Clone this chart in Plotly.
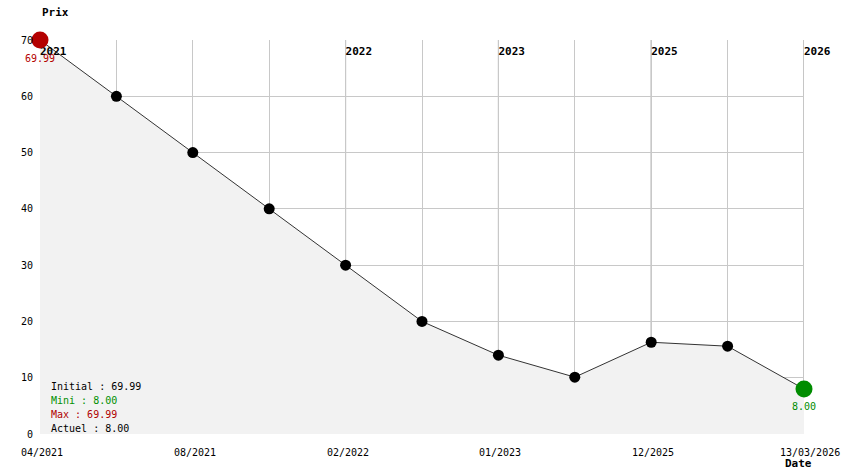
import plotly.graph_objects as go

# Data
point_index = list(range(11))
prices = [69.99, 60, 50, 40, 30, 20, 14.0, 10.1, 16.3, 15.6, 8.00]
x_tick_idx = [0, 2, 4, 6, 8, 10]
x_tick_labels = ["04/2021", "08/2021", "02/2022", "01/2023", "12/2025", "13/03/2026"]
year_idx = [0, 4, 6, 8, 10]
year_labels = ["2021", "2022", "2023", "2025", "2026"]
y_ticks = [0, 10, 20, 30, 40, 50, 60, 70]
summary_lines = ["Initial : 69.99", "Mini : 8.00", "Max : 69.99", "Actuel : 8.00"]
summary_colors = ["#000000", "#009000", "#b00000", "#000000"]

FONT = "DejaVu Sans Mono"
RED = "#b40000"
GREEN = "#008c00"
Y_MAX = max(y_ticks)

fig = go.Figure()

# year boundary lines (darker)
for xi in year_idx[1:]:
    fig.add_shape(type="line", x0=xi, x1=xi, y0=0, y1=Y_MAX, xref="x", yref="y",
                  line=dict(color="#8c8c8c", width=1), layer="below")

fig.add_trace(go.Scatter(
    x=point_index, y=prices, mode="lines", fill="tozeroy",
    fillcolor="#f2f2f2", line=dict(color="#333333", width=1), hoverinfo="skip"))

# year labels as a text trace, drawn beneath the markers (placed slightly below top edge)
label_y = Y_MAX - 1.25
fig.add_trace(go.Scatter(
    x=year_idx, y=[label_y] * len(year_idx), mode="text",
    text=[f"<b>{lab}</b>" for lab in year_labels], textposition="bottom right",
    textfont=dict(family=FONT, size=11, color="#000"), hoverinfo="skip", cliponaxis=False))

fig.add_trace(go.Scatter(
    x=point_index[1:-1], y=prices[1:-1], mode="markers",
    marker=dict(color="#000000", size=11), hoverinfo="skip"))

fig.add_trace(go.Scatter(
    x=[point_index[0]], y=[prices[0]], mode="markers",
    marker=dict(color=RED, size=17), hoverinfo="skip", cliponaxis=False))
fig.add_trace(go.Scatter(
    x=[point_index[-1]], y=[prices[-1]], mode="markers",
    marker=dict(color=GREEN, size=17), hoverinfo="skip", cliponaxis=False))

# value labels
fig.add_annotation(x=point_index[0], y=prices[0], text=f"{prices[0]:.2f}", showarrow=False,
                   yshift=-18, font=dict(family=FONT, size=10, color=RED))
fig.add_annotation(x=point_index[-1], y=prices[-1], text=f"{prices[-1]:.2f}", showarrow=False,
                   yshift=-18, font=dict(family=FONT, size=10, color=GREEN))

# x tick labels
for xi, lab in zip(x_tick_idx, x_tick_labels):
    shift = 2 if xi != 10 else 6
    fig.add_annotation(x=xi, y=0, xref="x", yref="y", text=lab, showarrow=False,
                       yshift=-18, xshift=shift, font=dict(family=FONT, size=10, color="#000"))

# summary box text
for i, (t, c) in enumerate(zip(summary_lines, summary_colors)):
    fig.add_annotation(x=0, y=0, xref="paper", yref="paper", text=t, showarrow=False,
                       xanchor="left", yanchor="middle", xshift=9, yshift=48 - 14 * i,
                       font=dict(family=FONT, size=10, color=c))

# axis titles
fig.add_annotation(x=0, y=1, xref="paper", yref="paper", text="<b>Prix</b>", showarrow=False,
                   xanchor="left", yanchor="middle", yshift=28,
                   font=dict(family=FONT, size=11, color="#000"))
fig.add_annotation(x=1, y=0, xref="paper", yref="paper", text="<b>Date</b>", showarrow=False,
                   xanchor="left", yanchor="middle", xshift=-21, yshift=-29,
                   font=dict(family=FONT, size=11, color="#000"))

fig.update_layout(
    width=844, height=474,
    margin=dict(l=40, r=40, t=40, b=40),
    paper_bgcolor="white", plot_bgcolor="white",
    showlegend=False,
    font=dict(family=FONT, size=10, color="#000"),
    xaxis=dict(range=[0, 10], dtick=1, tick0=0, showticklabels=False, showgrid=True,
               gridcolor="#c8c8c8", gridwidth=1, zeroline=False, showline=False, fixedrange=True),
    yaxis=dict(range=[0, Y_MAX], tickvals=y_ticks, showgrid=True, gridcolor="#c8c8c8",
               gridwidth=1, zeroline=False, showline=False, ticklabelstandoff=6,
               tickfont=dict(family=FONT, size=10, color="#000"), fixedrange=True),
)

# remove the default 8px page margin so the figure fills the 844x474 window exactly
fig.write_html("out.html", config={"displayModeBar": False},
               post_script="document.body.style.margin='0';document.body.style.overflow='hidden';")
